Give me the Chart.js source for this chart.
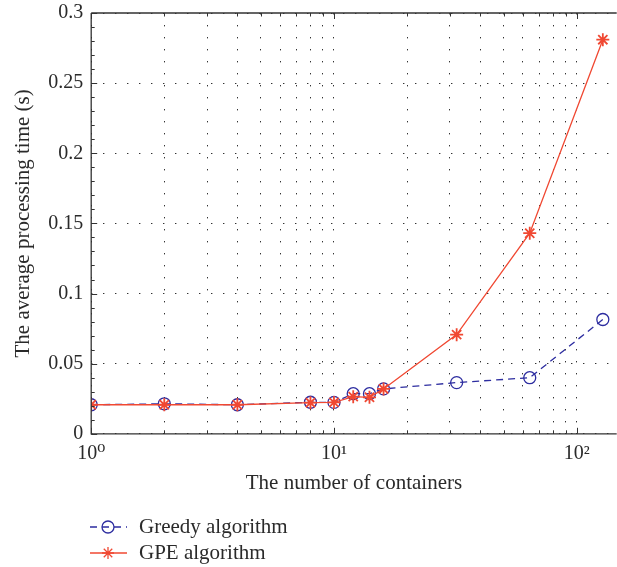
<!DOCTYPE html>
<html>
<head>
<meta charset="utf-8">
<script src="https://cdn.jsdelivr.net/npm/chart.js@4/dist/chart.umd.min.js"></script>
<style>
  html, body { margin: 0; padding: 0; background: #fff; }
  #wrap { width: 617px; height: 567px; overflow: hidden; position: relative; }
  #chart { position: absolute; left: 0; top: -7px; }
</style>
</head>
<body>
<div id="wrap"><canvas id="chart" width="625" height="574"></canvas></div>
<script>
const containers = [1, 2, 4, 8, 10, 12, 14, 16, 32, 64, 128];
const greedyTime = [0.0207, 0.0214, 0.0207, 0.0225, 0.0224, 0.0286, 0.0286, 0.032, 0.0365, 0.040, 0.0815];
const gpeTime = [0.0207, 0.0207, 0.0207, 0.0222, 0.0224, 0.0265, 0.026, 0.032, 0.0707, 0.143, 0.281];
const xTickValues = [1, 2, 3, 4, 5, 6, 7, 8, 9, 10, 20, 30, 40, 50, 60, 70, 80, 90, 100];
const xTickLabels = { 1: '10\u2070', 10: '10\u00B9', 100: '10\u00B2' };
const yMinorStep = 0.01;

const serif = '"Liberation Serif", "DejaVu Serif", serif';
const textColor = '#2a2a2a';
const blue = 'rgb(45,45,160)';
const red = 'rgb(240,72,50)';

const frameTicks = {
    id: 'frameTicks',
    afterDatasetsDraw(chart) {
        const { ctx, chartArea: a, scales } = chart;
        const x = scales.x, y = scales.y;
        ctx.save();
        ctx.strokeStyle = '#333';
        ctx.lineWidth = 1.3;
        ctx.beginPath();
        ctx.moveTo(a.left, a.top);
        ctx.lineTo(a.left, a.bottom);
        ctx.lineTo(a.right, a.bottom);
        ctx.moveTo(a.left, a.top);
        ctx.lineTo(a.right, a.top);
        ctx.stroke();
        ctx.lineWidth = 1;
        ctx.beginPath();
        xTickValues.forEach(v => {
            const px = Math.round(x.getPixelForValue(v)) + 0.5;
            const len = xTickLabels[v] ? 6 : 3.5;
            ctx.moveTo(px, a.bottom);
            ctx.lineTo(px, a.bottom - len);
            ctx.moveTo(px, a.top);
            ctx.lineTo(px, a.top + len);
        });
        for (let i = 0; i <= 30; i++) {
            const v = i * yMinorStep;
            const py = Math.round(y.getPixelForValue(v)) + 0.5;
            const len = i % 5 === 0 ? 6 : 3.5;
            ctx.moveTo(a.left, py);
            ctx.lineTo(a.left + len, py);
        }
        ctx.stroke();
        ctx.restore();
    },
    afterDraw(chart) {
        const { ctx } = chart;
        // canvas sits 7px above the page, so legend rows are shifted down by 7
        const items = [
            { text: 'Greedy algorithm', color: blue, dash: [7, 5], style: 'circle', y: 534 },
            { text: 'GPE algorithm', color: red, dash: [], style: 'star', y: 560 }
        ];
        ctx.save();
        items.forEach(it => {
            ctx.strokeStyle = it.color;
            ctx.lineWidth = 1.3;
            ctx.setLineDash(it.dash);
            ctx.beginPath();
            ctx.moveTo(90, it.y);
            ctx.lineTo(127, it.y);
            ctx.stroke();
            ctx.setLineDash([]);
            ctx.fillStyle = 'rgba(0,0,0,0)';
            Chart.helpers.drawPoint(ctx, {
                pointStyle: it.style, radius: 6, borderWidth: 1.5, rotation: 0
            }, 108, it.y);
            ctx.fillStyle = textColor;
            ctx.font = '21px ' + serif;
            ctx.textBaseline = 'middle';
            ctx.fillText(it.text, 139, it.y);
        });
        ctx.restore();
    }
};

const ctx = document.getElementById('chart').getContext('2d');
const chart = new Chart(ctx, {
    type: 'line',
    data: {
        datasets: [
            {
                label: 'Greedy algorithm',
                data: containers.map((c, i) => ({ x: c, y: greedyTime[i] })),
                borderColor: blue,
                backgroundColor: 'rgba(0,0,0,0)',
                borderWidth: 1.3,
                borderDash: [7, 5],
                pointStyle: 'circle',
                pointRadius: 6,
                pointBorderWidth: 1.3,
                pointBorderColor: blue,
                pointBackgroundColor: 'rgba(0,0,0,0)',
                tension: 0,
                order: 1
            },
            {
                label: 'GPE algorithm',
                data: containers.map((c, i) => ({ x: c, y: gpeTime[i] })),
                borderColor: red,
                backgroundColor: red,
                borderWidth: 1.3,
                pointStyle: 'star',
                pointRadius: 6.5,
                pointBorderWidth: 1.8,
                pointBorderColor: red,
                tension: 0,
                order: 0
            }
        ]
    },
    options:
    {
        responsive: false,
        animation: false,
        layout: { padding: { left: 11, top: 0, right: 0, bottom: 71 } },
        plugins:
        {
            legend: { display: false },
            tooltip: { enabled: false }
        },
        scales:
        {
            x:
            {
                type: 'logarithmic',
                min: 1,
                max: 146,
                afterBuildTicks: scale => {
                    scale.ticks = xTickValues.map(v => ({ value: v }));
                },
                ticks:
                {
                    autoSkip: false,
                    maxRotation: 0,
                    color: textColor,
                    font: { family: serif, size: 20 },
                    padding: 8,
                    callback: v => xTickLabels[v] || ''
                },
                grid:
                {
                    color: '#333',
                    lineWidth: 1,
                    drawTicks: false
                },
                border: { display: false, dash: [1.4, 10.6] },
                title:
                {
                    display: true,
                    text: 'The number of containers',
                    color: textColor,
                    font: { family: serif, size: 21 },
                    padding: { top: -3, bottom: 0 }
                }
            },
            y:
            {
                min: 0,
                max: 0.3,
                ticks:
                {
                    stepSize: 0.05,
                    color: textColor,
                    font: { family: serif, size: 20 },
                    padding: 8,
                    callback: v => String(+v.toFixed(2))
                },
                grid:
                {
                    color: '#333',
                    lineWidth: 1,
                    drawTicks: false
                },
                border: { display: false, dash: [1.4, 10.6] },
                title:
                {
                    display: true,
                    text: 'The average processing time (s)',
                    color: textColor,
                    font: { family: serif, size: 21 },
                    padding: { top: 0, bottom: 4 }
                }
            }
        }
    },
    plugins: [frameTicks]
});
</script>
</body>
</html>
